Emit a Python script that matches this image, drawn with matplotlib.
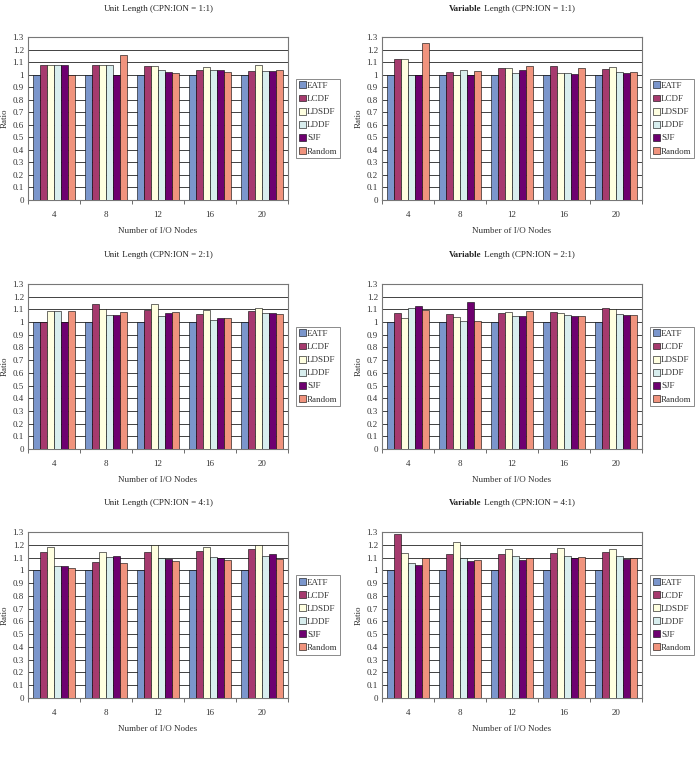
import numpy as np
import matplotlib
matplotlib.use('Agg')
import matplotlib.pyplot as plt

plt.rcParams['font.family'] = ['Liberation Serif', 'DejaVu Serif']

nodes = ['4', '8', '12', '16', '20']
methods = ['EATF', 'LCDF', 'LDSDF', 'LDDF', 'SJF', 'Random']
colors = ['#7B96CC', '#A63A6E', '#FFFFE0', '#D8EEEE', '#6E0070', '#F0937D']

# rows: methods, cols: node counts
unit_1 = [[1.0, 1.0, 1.0, 1.0, 1.0],
          [1.08, 1.08, 1.065, 1.04, 1.025],
          [1.08, 1.08, 1.065, 1.06, 1.075],
          [1.08, 1.08, 1.04, 1.04, 1.025],
          [1.08, 1.0, 1.02, 1.04, 1.025],
          [1.0, 1.155, 1.015, 1.02, 1.035]]
var_1 = [[1.0, 1.0, 1.0, 1.0, 1.0],
         [1.125, 1.02, 1.05, 1.065, 1.045],
         [1.125, 1.0, 1.055, 1.01, 1.06],
         [1.0, 1.04, 1.01, 1.015, 1.02],
         [1.0, 1.0, 1.035, 1.005, 1.015],
         [1.25, 1.03, 1.07, 1.055, 1.02]]
unit_2 = [[1.0, 1.0, 1.0, 1.0, 1.0],
          [1.0, 1.145, 1.095, 1.065, 1.09],
          [1.09, 1.1, 1.145, 1.095, 1.11],
          [1.09, 1.055, 1.045, 1.02, 1.07],
          [1.0, 1.055, 1.07, 1.03, 1.07],
          [1.09, 1.08, 1.08, 1.03, 1.06]]
var_2 = [[1.0, 1.0, 1.0, 1.0, 1.0],
         [1.075, 1.065, 1.07, 1.08, 1.11],
         [1.03, 1.04, 1.08, 1.075, 1.105],
         [1.11, 1.005, 1.045, 1.055, 1.065],
         [1.13, 1.155, 1.05, 1.045, 1.055],
         [1.095, 1.01, 1.085, 1.045, 1.055]]
unit_4 = [[1.0, 1.0, 1.0, 1.0, 1.0],
          [1.145, 1.065, 1.145, 1.15, 1.165],
          [1.18, 1.14, 1.2, 1.18, 1.195],
          [1.035, 1.105, 1.095, 1.105, 1.115],
          [1.035, 1.115, 1.09, 1.1, 1.125],
          [1.02, 1.055, 1.075, 1.08, 1.09]]
var_4 = [[1.0, 1.0, 1.0, 1.0, 1.0],
         [1.285, 1.13, 1.13, 1.135, 1.14],
         [1.135, 1.225, 1.165, 1.175, 1.17],
         [1.055, 1.095, 1.115, 1.115, 1.115],
         [1.04, 1.075, 1.08, 1.1, 1.085],
         [1.1, 1.08, 1.095, 1.105, 1.1]]

panels = [('Unit', '1:1', unit_1), ('Variable', '1:1', var_1),
          ('Unit', '2:1', unit_2), ('Variable', '2:1', var_2),
          ('Unit', '4:1', unit_4), ('Variable', '4:1', var_4)]

fig = plt.figure(figsize=(7, 7.62), dpi=100)

lefts = [28, 382]
tops = [37, 284, 532]
bottoms = [200, 449, 698]
W, H = 700.0, 762.0

fs = 6.5
bw = 0.8 / 6
x = np.arange(len(nodes))

titles = []
for k, (kind, ratio, data) in enumerate(panels):
    r, c = k // 2, k % 2
    ax = fig.add_axes([lefts[c] / W, 1 - bottoms[r] / H, 260 / W, (bottoms[r] - tops[r]) / H])
    for i, m in enumerate(methods):
        ax.bar(x - 0.4 + bw * (i + 0.5), data[i], width=bw, color=colors[i],
               edgecolor='black', linewidth=0.4, label=m, zorder=3)
    ax.set_xlim(-0.5, len(nodes) - 0.5)
    ax.set_ylim(0, 1.3)
    ax.set_yticks(np.arange(0, 1.31, 0.1))
    ax.set_yticklabels(['0'] + ['%g' % v for v in np.round(np.arange(0.1, 1.31, 0.1), 1)])
    ax.yaxis.grid(True, color='#222222', linewidth=0.6, zorder=0)
    ax.set_xticks(x)
    ax.set_xticklabels(nodes)
    ax.set_xticks(np.arange(-0.5, len(nodes)), minor=True)
    ax.tick_params(axis='x', which='major', length=0, labelsize=fs, pad=8, colors='#333333')
    ax.tick_params(axis='x', which='minor', length=3, width=0.6, color='#555555')
    ax.tick_params(axis='y', length=0, labelsize=fs, pad=3, colors='#333333')
    for s in ax.spines.values():
        s.set_color('#777777')
        s.set_linewidth(0.8)
    ax.set_xlabel('Number of I/O Nodes', fontsize=fs, color='#333333', labelpad=6)
    ax.set_ylabel('Ratio', fontsize=fs, color='#333333')
    ax.yaxis.set_label_coords(-0.075, 0.5)
    leg = ax.legend(loc='center left', bbox_to_anchor=(1.03, 0.5), fontsize=fs,
                    frameon=True, fancybox=False, edgecolor='#555555',
                    handlelength=0.8, handleheight=0.8, handletextpad=0.15,
                    borderpad=0.3, labelspacing=0.5, borderaxespad=0)
    leg.get_frame().set_linewidth(0.6)
    for t in leg.get_texts():
        t.set_color('#333333')
    t1 = ax.text(0.5, 1.15, kind, transform=ax.transAxes, fontsize=fs,
                 weight='bold' if kind == 'Variable' else 'normal',
                 ha='left', va='bottom', color='#222222')
    t2 = ax.annotate(' Length (CPN:ION = %s)' % ratio, xy=(1, 0), xycoords=t1,
                     fontsize=fs, ha='left', va='bottom', color='#222222')
    titles.append((ax, t1, t2))

# center the two-part titles over each plot
fig.canvas.draw()
for ax, t1, t2 in titles:
    b1 = t1.get_window_extent()
    b2 = t2.get_window_extent()
    total = b2.x1 - b1.x0
    axb = ax.get_window_extent()
    x0 = (axb.x0 + axb.x1) / 2 - total / 2
    xa = ax.transAxes.inverted().transform((x0, b1.y0))[0]
    t1.set_x(xa)

fig.savefig('out.png', dpi=100)
